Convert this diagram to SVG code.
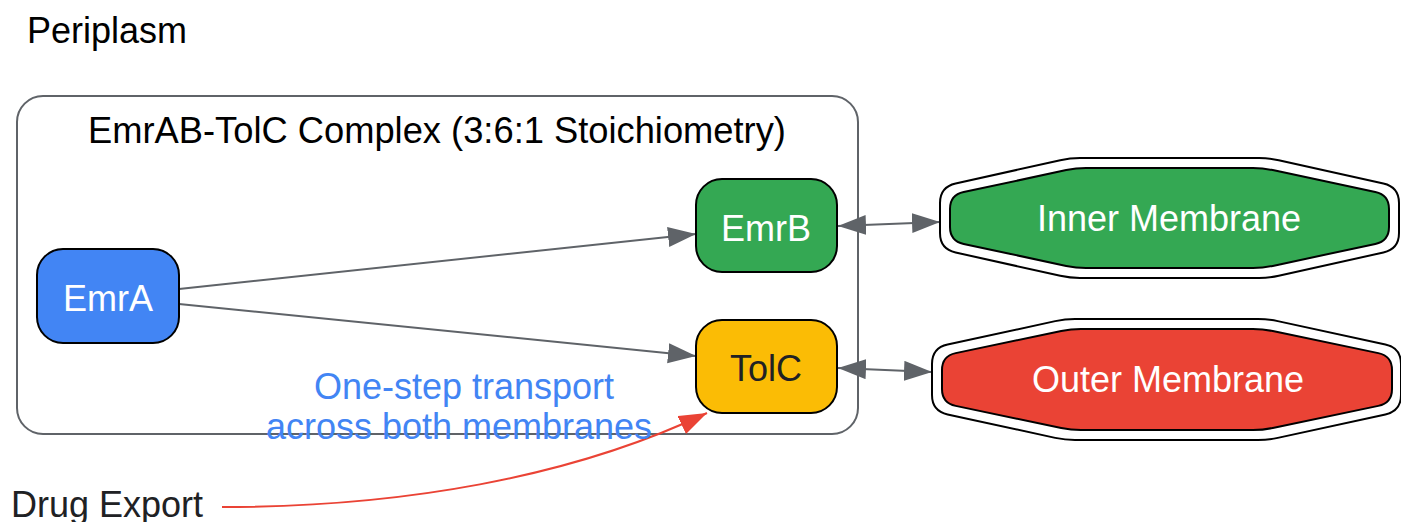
<svg xmlns="http://www.w3.org/2000/svg" width="1401" height="522" viewBox="0 0 1401 522">
<style>
text{font-family:"Liberation Sans",Arial,sans-serif;font-size:36px}
.c{text-anchor:middle}
.node{stroke:#000;stroke-width:2}
.edge{fill:none;stroke:#5f6368;stroke-width:2}
</style>
<defs>
<marker id="ag" markerUnits="userSpaceOnUse" markerWidth="30" markerHeight="22" refX="28" refY="10" orient="auto-start-reverse" viewBox="0 0 30 22">
<path d="M0,0 L28,10 L0,20 Z" fill="#5f6368"/>
</marker>
<marker id="ar" markerUnits="userSpaceOnUse" markerWidth="30" markerHeight="22" refX="28" refY="10" orient="auto" viewBox="0 0 30 22">
<path d="M0,0 L28,10 L0,20 Z" fill="#EA4335"/>
</marker>
</defs>
<rect width="1401" height="522" fill="#fff"/>
<text x="27" y="43">Periplasm</text>
<g id="cluster">
<rect x="17" y="96" width="841" height="338" rx="26" fill="none" stroke="#5f6368" stroke-width="2"/>
<text class="c" x="437" y="143" fill="#000" style="font-size:36.3px">EmrAB-TolC Complex (3:6:1 Stoichiometry)</text>
</g>
<g id="edges">
<path class="edge" d="M179,289 L696,234" marker-end="url(#ag)"/>
<path class="edge" d="M179,304 L696,356" marker-end="url(#ag)"/>
<path class="edge" d="M838,226 L940,222" marker-start="url(#ag)" marker-end="url(#ag)"/>
<path class="edge" d="M838,368 L932,372" marker-start="url(#ag)" marker-end="url(#ag)"/>
<path d="M222,507 C400,507 570,478 707,413" fill="none" stroke="#EA4335" stroke-width="2" marker-end="url(#ar)"/>
<text class="c" x="464" y="399" fill="#4285F4">One-step transport</text>
<text class="c" x="459" y="439" fill="#4285F4">across both membranes</text>
</g>
<g id="EmrA">
<rect class="node" x="37" y="249" width="142" height="94" rx="26" fill="#4285F4"/>
<text class="c" x="108" y="311" fill="#fff">EmrA</text>
</g>
<g id="EmrB">
<rect class="node" x="696" y="179" width="141" height="93" rx="26" fill="#34A853"/>
<text class="c" x="766" y="241" fill="#fff">EmrB</text>
</g>
<g id="TolC">
<rect class="node" x="696" y="320" width="141" height="93" rx="26" fill="#FBBC05"/>
<text class="c" x="766" y="381" fill="#202124">TolC</text>
</g>
<g id="InnerMembrane">
<path d="M1080,158 L1259,158 Q1269,158 1278.76,160.18 L1383.38,183.52 Q1399,187 1399,203 L1399,233 Q1399,249 1383.38,252.48 L1278.76,275.82 Q1269,278 1259,278 L1080,278 Q1070,278 1060.24,275.82 L955.62,252.48 Q940,249 940,233 L940,203 Q940,187 955.62,183.52 L1060.24,160.18 Q1070,158 1080,158 Z" fill="#fff" stroke="#000" stroke-width="2"/>
<path d="M1086,168 L1253,168 Q1263,168 1272.78,170.1 L1375.31,192.07 Q1389,195 1389,209 L1389,227 Q1389,241 1375.31,243.93 L1272.78,265.9 Q1263,268 1253,268 L1086,268 Q1076,268 1066.22,265.9 L963.69,243.93 Q950,241 950,227 L950,209 Q950,195 963.69,192.07 L1066.22,170.1 Q1076,168 1086,168 Z" fill="#34A853" stroke="#000" stroke-width="2"/>
<text class="c" x="1169" y="231" fill="#fff">Inner Membrane</text>
</g>
<g id="OuterMembrane">
<path d="M1075,319 L1258,319 Q1268,319 1277.77,321.13 L1385.37,344.59 Q1401,348 1401,364 L1401,395 Q1401,411 1385.37,414.41 L1277.77,437.87 Q1268,440 1258,440 L1075,440 Q1065,440 1055.23,437.87 L947.63,414.41 Q932,411 932,395 L932,364 Q932,348 947.63,344.59 L1055.23,321.13 Q1065,319 1075,319 Z" fill="#fff" stroke="#000" stroke-width="2"/>
<path d="M1081,329 L1253,329 Q1263,329 1272.79,331.05 L1378.3,353.13 Q1392,356 1392,370 L1392,389 Q1392,403 1378.3,405.87 L1272.79,427.95 Q1263,430 1253,430 L1081,430 Q1071,430 1061.21,427.95 L955.7,405.87 Q942,403 942,389 L942,370 Q942,356 955.7,353.13 L1061.21,331.05 Q1071,329 1081,329 Z" fill="#EA4335" stroke="#000" stroke-width="2"/>
<text class="c" x="1168" y="392" fill="#fff">Outer Membrane</text>
</g>
<text x="11" y="517" fill="#202124">Drug Export</text>
</svg>
